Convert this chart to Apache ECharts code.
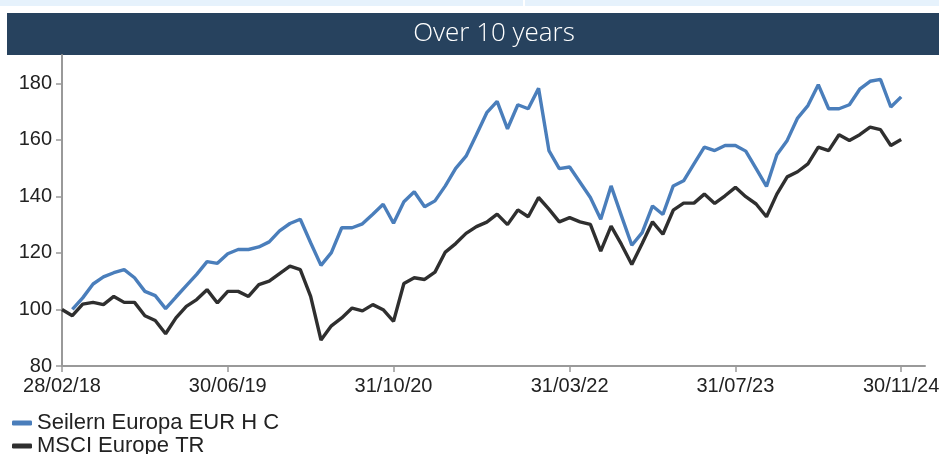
<!DOCTYPE html>
<html>
<head>
<meta charset="utf-8">
<script src="https://cdn.jsdelivr.net/npm/echarts@6/dist/echarts.min.js"></script>
<style>
html,body{margin:0;padding:0;background:#fff;}
#c{width:939px;height:454px;}
</style>
</head>
<body>
<div id="c"></div>
<script>
// Month index 0 = 28/02/18 ... 81 = 30/11/24
var tickIndex = [0, 16, 32, 49, 65, 81];
var tickLabels = ['28/02/18', '30/06/19', '31/10/20', '31/03/22', '31/07/23', '30/11/24'];
var yTicks = [80, 100, 120, 140, 160, 180];
var seriesNames = ['Seilern Europa EUR H C', 'MSCI Europe TR'];

var seilern = [null, 100, 104.1, 109, 111.5, 113, 114.1, 111.2, 106.4, 104.9,
  100.3, 104.4, 108.4, 112.4, 116.9, 116.3, 119.7, 121.2, 121.2, 122.1,
  123.9, 127.8, 130.4, 131.9, 123.6, 115.6, 120.1, 128.9, 128.9, 130.3,
  133.7, 137.2, 130.5, 138.1, 141.6, 136.3, 138.4, 143.7, 149.9, 154.2,
  161.8, 169.6, 173.6, 163.9, 172.4, 171, 178.2, 156.2, 149.8, 150.4,
  145, 139.6, 131.9, 143.7, 133.1, 122.7, 127.2, 136.6, 133.6, 143.7,
  145.5, 151.5, 157.4, 156.2, 158, 158, 156, 149.8, 143.5, 154.7,
  159.8, 167.7, 172.1, 179.5, 171, 171, 172.4, 177.9, 180.7, 181.4,
  171.6, 175.2];

var msci = [100, 97.8, 101.9, 102.5, 101.7, 104.6, 102.5, 102.5, 97.8, 96.1,
  91.4, 97, 101.1, 103.5, 107, 102.3, 106.4, 106.4, 104.6, 108.8,
  110, 112.7, 115.3, 114.1, 104.6, 89.2, 94.2, 97, 100.5, 99.5,
  101.7, 99.9, 95.8, 109.2, 111.2, 110.6, 113.2, 120.3, 123.3, 126.9,
  129.3, 130.9, 133.7, 130, 135.2, 132.8, 139.6, 135.5, 131, 132.5,
  131, 130.1, 120.6, 129.5, 123, 115.9, 123.3, 131, 126.6, 135.1,
  137.6, 137.6, 140.8, 137.5, 140.2, 143.2, 139.9, 137.3, 132.8, 140.8,
  146.9, 148.7, 151.5, 157.4, 156.2, 161.8, 159.8, 161.8, 164.5, 163.6,
  158, 160.1];

function toPairs(arr) {
  return arr.map(function (v, i) { return [i, v === null ? '-' : v]; });
}

var chart = echarts.init(document.getElementById('c'), null, {renderer: 'canvas'});
var font = 'Liberation Sans, Arial, sans-serif';
function legendAt(name, top) {
  return {
    left: 12,
    top: top,
    itemWidth: 20,
    itemHeight: 5,
    icon: 'roundRect',
    padding: 0,
    textStyle: {fontSize: 22, color: '#222', fontFamily: font, padding: [0, 0, 0, 0]},
    data: [name]
  };
}
chart.setOption({
  animation: false,
  backgroundColor: '#ffffff',
  graphic: [
    {type: 'rect', left: 0, top: 0, shape: {width: 523, height: 6}, style: {fill: '#e6f2fc'}, z: 0},
    {type: 'rect', left: 525, top: 0, shape: {width: 414, height: 6}, style: {fill: '#e6f2fc'}, z: 0},
    {type: 'rect', left: 7, top: 13, shape: {width: 932, height: 42}, style: {fill: '#27425e'}, z: 0}
  ],
  title: {
    text: 'Over 10 years',
    left: 489,
    top: 16,
    textAlign: 'center',
    textStyle: {color: '#ffffff', fontSize: 26, fontWeight: 300, fontFamily: 'Open Sans, Noto Sans, sans-serif'}
  },
  legend: [legendAt(seriesNames[0], 412), legendAt(seriesNames[1], 435)],
  grid: {left: 62, right: 14, top: 55, bottom: 88, containLabel: false, outerBoundsMode: 'none'},
  xAxis: {
    type: 'value',
    min: 0,
    max: 83.3,
    splitLine: {show: false},
    axisLine: {show: true, lineStyle: {color: '#999', width: 2}},
    axisTick: {show: true, length: 6, customValues: tickIndex, lineStyle: {color: '#999', width: 1.5}},
    axisLabel: {
      customValues: tickIndex,
      margin: 10,
      fontSize: 20,
      color: '#222',
      fontFamily: font,
      formatter: function (v) { var k = tickIndex.indexOf(v); return k >= 0 ? tickLabels[k] : ''; }
    }
  },
  yAxis: {
    type: 'value',
    min: 80,
    max: 190,
    splitLine: {show: false},
    axisLine: {show: true, lineStyle: {color: '#999', width: 2}},
    axisTick: {show: true, length: 6, customValues: yTicks, lineStyle: {color: '#999', width: 1.5}},
    axisLabel: {customValues: yTicks, margin: 10, fontSize: 20, color: '#222', fontFamily: font}
  },
  series: [
    {
      name: seriesNames[0], type: 'line', data: toPairs(seilern), showSymbol: false, symbol: 'none',
      lineStyle: {color: '#4a7ebb', width: 3.4}, itemStyle: {color: '#4a7ebb'}, z: 3
    },
    {
      name: seriesNames[1], type: 'line', data: toPairs(msci), showSymbol: false, symbol: 'none',
      lineStyle: {color: '#2f2f2f', width: 3.4}, itemStyle: {color: '#2f2f2f'}, z: 2
    }
  ]
});
</script>
</body>
</html>
